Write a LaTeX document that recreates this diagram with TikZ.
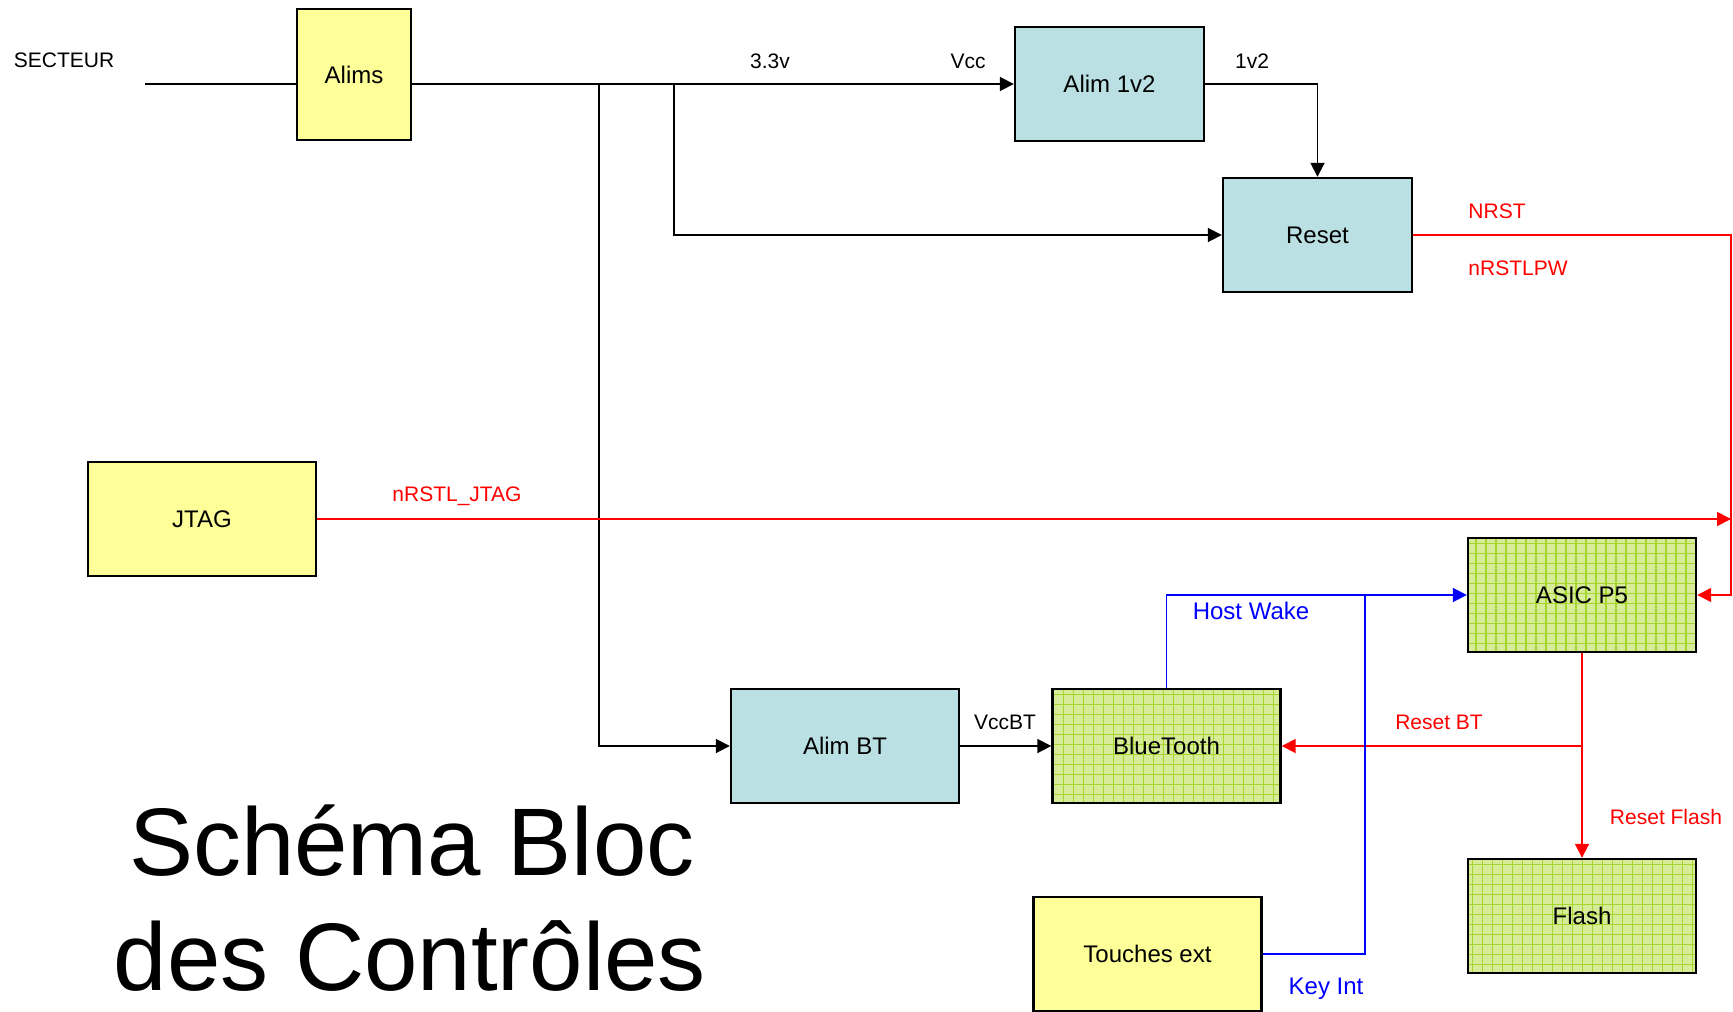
\documentclass[tikz,border=0pt]{standalone}
\usepackage{fontspec}
\setmainfont{Liberation Sans}
\usetikzlibrary{arrows.meta,calc}
\definecolor{boxyellow}{HTML}{FFFF99}
\definecolor{boxteal}{HTML}{BBE0E3}
\definecolor{boxgreen}{HTML}{D6EC98}
\definecolor{gridgreen}{HTML}{A6D62C}
\definecolor{sigred}{HTML}{FF0000}
\definecolor{sigblue}{HTML}{0000FF}
\begin{document}
\begin{tikzpicture}[x=1pt,y=-1pt,
 blk/.style={draw=black,line width=2.4pt,minimum width=228pt,minimum height=114pt,inner sep=0pt,font=\fontsize{24}{28}\selectfont},
 yelbox/.style={blk,fill=boxyellow},
 tealbox/.style={blk,fill=boxteal},
 grnbox/.style={blk,fill=boxgreen,path picture={\draw[gridgreen,line width=1.1pt,step=10pt] (path picture bounding box.south west) grid (path picture bounding box.north east);}},
 wire/.style={line width=1.8pt},
 arr/.style={wire,-{Triangle[length=14pt,width=14pt]}},
 lbl/.style={anchor=base,inner sep=0pt,font=\fontsize{21}{25}\selectfont},
 lblb/.style={anchor=base,inner sep=0pt,font=\fontsize{24}{28}\selectfont},
]
\fill[white] (0,0) rectangle (1733,1012);
\useasboundingbox (0,0) rectangle (1733,1012);

% blocks
\node[yelbox,minimum width=114pt,minimum height=131pt] (alims) at (354,74.5) {Alims};
\node[tealbox,minimum width=189pt] (alim12) at (1109.5,84) {Alim 1v2};
\node[tealbox,minimum width=189pt] (reset) at (1317.5,235) {Reset};
\node[yelbox] (jtag) at (202,519) {JTAG};
\node[grnbox] (asic) at (1582,595) {ASIC P5};
\node[tealbox] (alimbt) at (845,746) {Alim BT};
\node[grnbox] (bt) at (1166.5,746) {BlueTooth};
\node[yelbox] (touch) at (1147.5,954) {Touches ext};
\node[grnbox] (flash) at (1582,916) {Flash};

% helper coordinates
\coordinate (sect) at (145,84);
\coordinate (j1) at (599,84);
\coordinate (j2) at (674,84);
\coordinate (rx) at (1731,400);
\coordinate (ki) at (1365,595);

% black power wiring
\draw[wire] (sect) -- (alims.west |- alim12.west);
\draw[arr] (alims.east |- alim12.west) -- (alim12.west);
\draw[arr] (j2) |- (reset.west);
\draw[arr] (j1) |- (alimbt.west);
\draw[arr] (alim12.east) -| (reset.north);
\draw[arr] (alimbt.east) -- (bt.west);

% red reset wiring
\draw[arr,sigred] (reset.east) -| (rx) |- (asic.east);
\draw[arr,sigred] (jtag.east) -- (jtag.east -| rx);
\draw[arr,sigred] (asic.south) |- (bt.east);
\draw[arr,sigred] (asic.south |- bt.east) -- (flash.north);

% blue wiring
\draw[arr,sigblue] (bt.north) |- (asic.west);
\draw[wire,sigblue] (touch.east) -| (ki);

% labels
\node[lbl] (lsect) at (64,67.5) {SECTEUR};
\node[lbl] (l33) at (770,68) {3.3v};
\node[lbl] (lvcc) at (968,68) {Vcc};
\node[lbl] (l12) at (1252,68) {1v2};
\node[lbl,text=sigred] (lnrst) at (1497,218) {NRST};
\node[lbl,text=sigred] (lnrstlpw) at (1518,275) {nRSTLPW};
\node[lbl,text=sigred] (ljtag) at (457,501) {nRSTL\_JTAG};
\node[lblb,text=sigblue] (lhw) at (1251,619) {Host Wake};
\node[lbl] (lvccbt) at (1005,729) {VccBT};
\node[lbl,text=sigred] (lrbt) at (1439,729) {Reset BT};
\node[lbl,text=sigred] (lrfl) at (1666,824) {Reset Flash};
\node[lblb,text=sigblue] (lki) at (1326,994) {Key Int};

% title
\node[anchor=base,inner sep=0pt,font=\fontsize{96}{110}\selectfont] (t1) at (412,875) {Schéma Bloc};
\node[anchor=base,inner sep=0pt,font=\fontsize{96}{110}\selectfont] (t2) at (410,990) {des Contrôles};
\end{tikzpicture}
\end{document}
